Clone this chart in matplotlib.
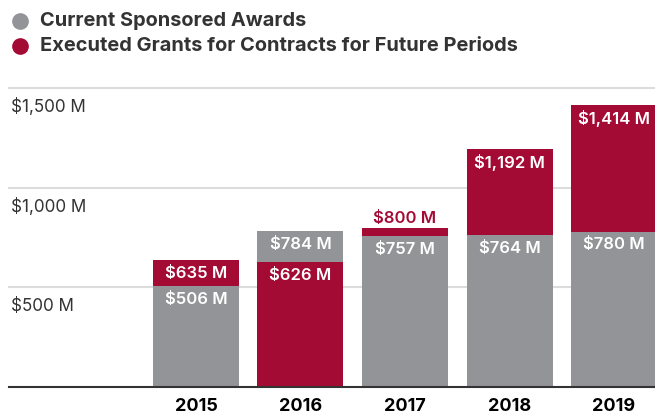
import numpy as np
import matplotlib
matplotlib.use("Agg")
import matplotlib.pyplot as plt
from matplotlib.lines import Line2D

plt.rcParams['font.family'] = ['Inter', 'DejaVu Sans']

years = ['2015', '2016', '2017', '2018', '2019']
current_awards = [506, 784, 757, 764, 780]
executed_grants = [635, 626, 800, 1192, 1414]
y_ticks = [500, 1000, 1500]
y_labels = ['$500 M', '$1,000 M', '$1,500 M']
legend_names = ['Current Sponsored Awards', 'Executed Grants for Contracts for Future Periods']

GREY = '#939498'
RED = '#a30b35'
TXT = '#333333'

W, H = 655, 415
fig = plt.figure(figsize=(W / 100, H / 100), dpi=100)
ax = fig.add_axes([9 / W, (H - 387) / H, (W - 9) / W, (387 - 88) / H])

x = np.arange(1, len(years) + 1)
bw = 0.823
grey_bars = ax.bar(x, current_awards, width=bw, color=GREY, zorder=2)
red_bars = ax.bar(x, executed_grants, width=bw, color=RED, zorder=2)

# the bars overlap (not stacked): smaller value sits in front
for i in range(len(years)):
    g, r = grey_bars[i], red_bars[i]
    if current_awards[i] < executed_grants[i]:
        g.set_zorder(3)
    else:
        r.set_zorder(3)

def fmt(v):
    return f'${v:,} M'

for i in range(len(years)):
    vals = [(current_awards[i], GREY), (executed_grants[i], RED)]
    lo, hi = sorted(vals, key=lambda t: t[0])
    ax.annotate(fmt(lo[0]), (x[i], lo[0]), xytext=(0, -9.7), textcoords='offset points',
                ha='center', va='center', color='white', fontsize=12, fontweight='semibold', zorder=5)
    if hi[0] - lo[0] < 100:
        ax.annotate(fmt(hi[0]), (x[i], hi[0]), xytext=(0, 6.5), textcoords='offset points',
                    ha='center', va='center', color=hi[1], fontsize=12, fontweight='semibold', zorder=5)
    else:
        ax.annotate(fmt(hi[0]), (x[i], hi[0]), xytext=(0, -9.7), textcoords='offset points',
                    ha='center', va='center', color='white', fontsize=12, fontweight='semibold', zorder=5)

for v, lab in zip(y_ticks, y_labels):
    ax.axhline(v, color='#dcdcdc', lw=1.5, zorder=1, clip_on=False)
    ax.annotate(lab, (0, v), xycoords=('axes fraction', 'data'), xytext=(1.5, -14),
                textcoords='offset points', ha='left', va='center', color=TXT, fontsize=12.3)

ax.set_xlim(-0.789, 5.392)
ax.set_ylim(0, 1500)
ax.set_yticks([])
ax.set_xticks(x)
ax.set_xticklabels(years, fontsize=13, fontweight='bold', color='black')
ax.tick_params(axis='x', length=0, pad=8)
for s in ['top', 'left', 'right']:
    ax.spines[s].set_visible(False)
ax.spines['bottom'].set_color('#333333')
ax.spines['bottom'].set_linewidth(1.5)
ax.spines['bottom'].set_zorder(6)

# legend drawn by hand at the top left
for yy, col, name in zip([21, 46], [GREY, RED], legend_names):
    fig.add_artist(Line2D([20 / W], [1 - yy / H], marker='o', markersize=11,
                          color=col, transform=fig.transFigure))
    fig.text(40 / W, 1 - yy / H, name, ha='left', va='center', fontsize=14.4,
             fontweight='bold', color=TXT)

fig.savefig('out.png', dpi=100)
